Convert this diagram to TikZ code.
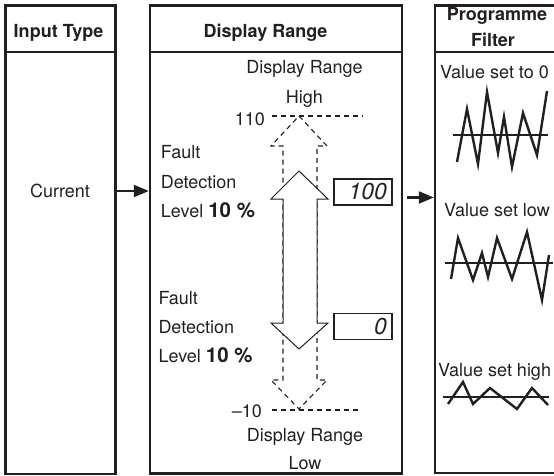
\documentclass[tikz,border=0pt]{standalone}
\usepackage{fontspec}
\setmainfont{TeX Gyre Heros}
\usetikzlibrary{arrows.meta}
\definecolor{ink}{HTML}{231F20}
\begin{document}
\begin{tikzpicture}[x=1pt,y=-1pt,
  panel/.style={draw=ink, line width=2.4pt, inner sep=0pt},
  hdrline/.style={draw=ink, line width=1.4pt},
  txt/.style={inner sep=0pt, text=ink, font=\fontsize{18}{21}\selectfont},
  hd/.style={inner sep=0pt, text=ink, font=\fontsize{18}{21}\selectfont\bfseries},
  dashline/.style={draw=ink, line width=1.1pt, dash pattern=on 5pt off 4pt},
  solidarrow/.style={draw=ink, line width=1pt, fill=white, line join=miter},
  dispbox/.style={draw=ink, line width=1.2pt, minimum width=58pt, minimum height=26pt,
    inner xsep=5pt, inner ysep=0pt, text width=48pt, align=right, text=ink,
    font=\fontsize{23}{23}\selectfont\itshape},
  conn/.style={draw=ink, line width=2.2pt, -{Triangle[length=15pt,width=12pt]}},
  wave/.style={draw=ink, line width=2.4pt, line join=miter, miter limit=20},
  axisline/.style={draw=ink, line width=1.1pt}]

\useasboundingbox (0,0) rectangle (554,476);
\clip (0,0) rectangle (554,476);

% the three columns
\node[panel, minimum width=110pt, minimum height=468.5pt] (inp)  at (60.5,239.75) {};
\node[panel, minimum width=252pt, minimum height=468pt]   (disp) at (276,239.5) {};
\node[panel, minimum width=140pt, minimum height=467.5pt] (filt) at (505,239.25) {};

% header separators
\draw[hdrline] (inp.west |- 0,52)  -- (inp.east |- 0,52);
\draw[hdrline] (disp.west |- 0,52) -- (disp.east |- 0,52);
\draw[hdrline] (filt.west |- 0,52) -- (filt.east |- 0,52);

% column titles
\node[hd, anchor=base] (tin)  at (58.5,37.3)  {Input Type};
\node[hd, anchor=base] (tdr)  at (265.5,37.3) {Display Range};
\node[hd, anchor=base] (tpf1) at (497,20.7)   {Programme};
\node[hd, anchor=base] (tpf2) at (493,46.7)   {Filter};

% input column
\node[txt, anchor=base] (cur) at (60,197.3) {Current};

% display range column: labels
\node[txt, anchor=base] (drhi1) at (304.5,74)  {Display Range};
\node[txt, anchor=base] (drhi2) at (304.5,104) {High};
\node[txt, anchor=base east] (v110) at (265,125) {110};
\node[txt, anchor=base] (drlo1) at (305,441)   {Display Range};
\node[txt, anchor=base] (drlo2) at (305,469.3) {Low};
\node[txt, anchor=base east] (vm10) at (262,417.3) {–10};

\node[txt, anchor=base west] (fa1) at (160.7,158.3) {Fault};
\node[txt, anchor=base west] (fa2) at (160.7,188.3) {Detection};
\node[txt, anchor=base west] (fa3) at (160.7,217.3) {Level {\fontsize{20.5}{21}\selectfont\bfseries 10 \%}};
\node[txt, anchor=base west] (fb1) at (158.3,304)   {Fault};
\node[txt, anchor=base west] (fb2) at (158.3,333.3) {Detection};
\node[txt, anchor=base west] (fb3) at (158.3,362.7) {Level {\fontsize{20.5}{21}\selectfont\bfseries 10 \%}};

% level lines at 110 and -10
\draw[dashline] (272,116) -- (363,116);
\draw[dashline] (272,410) -- (358,410);

% extended (dashed) double arrow
\draw[dashline] (299,116) -- (327,146) -- (317,146) -- (317,380) -- (327,380)
  -- (299,409) -- (271,380) -- (283,380) -- (283,146) -- (271,146) -- cycle;
% display range (solid) double arrow
\draw[solidarrow] (299,171) -- (328,199) -- (317,199) -- (317,323) -- (328,323)
  -- (299,349) -- (271,323) -- (283,323) -- (283,199) -- (271,199) -- cycle;

% digital readouts
\node[dispbox] (rdhi) at (363,192)   {100};
\node[dispbox] (rdlo) at (363,326.5) {0};

% flow arrows between columns
\coordinate (lv1) at (0,191);
\coordinate (lv2) at (0,197.5);
\draw[conn] (inp.east |- lv1) -- (disp.west |- lv1);
\draw[conn] ([xshift=4pt]disp.east |- lv2) -- (filt.west |- lv2);

% filter column
\node[txt, anchor=base west] (vs0) at (440,78.3)  {Value set to 0};
\node[txt, anchor=base west] (vsl) at (444,216.7) {Value set low};
\node[txt, anchor=base west] (vsh) at (438,376.7) {Value set high};

\draw[axisline] (453,135) -- (548,135);
\draw[wave] (457,162) -- (467,109) -- (478,164) -- (487,92) -- (498,153) -- (504,117)
  -- (512,167) -- (523,113) -- (537,155) -- (547,91);

\draw[axisline] (445,263) -- (553,263);
\draw[wave] (451,279) -- (458,238) -- (473,280) -- (482,253) -- (488,277) -- (497,238)
  -- (512,279) -- (527,232) -- (542,300) -- (549,255);

\draw[axisline] (443,397) -- (549,397);
\draw[wave] (448,404) -- (463,382) -- (473,404) -- (490,388) -- (517,409) -- (532,388)
  -- (548,405);
\end{tikzpicture}
\end{document}
